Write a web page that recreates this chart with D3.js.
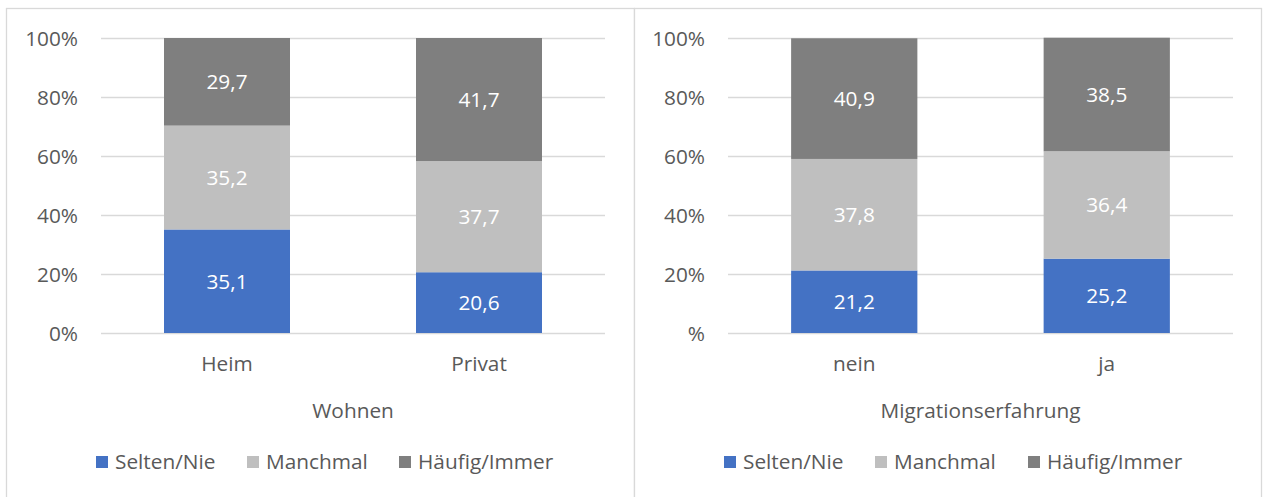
<!DOCTYPE html>
<html><head><meta charset="utf-8">
<script src="https://cdn.jsdelivr.net/npm/d3@7"></script>
<style>body{margin:0;background:#fff}svg{display:block}text{font-family:"Open Sans",sans-serif}</style>
</head><body><svg id="c" width="1264" height="497"></svg>
<script>
const seriesNames = ["Selten/Nie","Manchmal","Häufig/Immer"];
const colors = ["#4472C4","#BFBFBF","#7F7F7F"];
const leftCategories = ["Heim","Privat"];
const leftSelten = [35.1, 20.6];
const leftManchmal = [35.2, 37.7];
const leftHaeufig = [29.7, 41.7];
const rightCategories = ["nein","ja"];
const rightSelten = [21.2, 25.2];
const rightManchmal = [37.8, 36.4];
const rightHaeufig = [40.9, 38.5];
const tickValues = [0,20,40,60,80,100];
const leftTickLabels = ["0%","20%","40%","60%","80%","100%"];
const rightTickLabels = ["%","20%","40%","60%","80%","100%"];
const leftTitle = "Wohnen";
const rightTitle = "Migrationserfahrung";

const svg = d3.select("#c");
const fontSize = 20.8, txt = "#595959";

function panel(px, pw, cats, vals, tickLabels, title, plotL, plotR) {
  const g = svg.append("g");
  g.append("rect").attr("x", px+0.5).attr("y", 8.5).attr("width", pw).attr("height", 520)
    .attr("fill","#fff").attr("stroke","#D9D9D9").attr("stroke-width",1.3);
  const y = d3.scaleLinear().domain([0,100]).range([333,38]);
  const x = d3.scaleBand().domain(cats).range([plotL, plotR]).paddingInner(0.5).paddingOuter(0.25);
  g.append("g").selectAll("line").data(tickValues).join("line")
    .attr("x1", plotL).attr("x2", plotR)
    .attr("y1", d=>Math.round(y(d))+0.5).attr("y2", d=>Math.round(y(d))+0.5)
    .attr("stroke","#D9D9D9").attr("stroke-width",1.3);
  const yAxis = d3.axisLeft(y).tickValues(tickValues).tickSize(0).tickPadding(0)
    .tickFormat((d,i)=>tickLabels[i]);
  const ya = g.append("g").attr("transform",`translate(${plotL-23},0)`).call(yAxis);
  ya.select(".domain").remove();
  ya.selectAll("text").attr("font-size",fontSize).attr("fill",txt).attr("font-family","Open Sans").attr("dy","0.35em");
  const rows = cats.map((c,i)=>({cat:c, s0:vals[0][i], s1:vals[1][i], s2:vals[2][i]}));
  const stack = d3.stack().keys(["s0","s1","s2"])(rows);
  stack.forEach((layer, li) => {
    const lg = g.append("g");
    lg.selectAll("rect").data(layer).join("rect")
      .attr("x", d=>x(d.data.cat)).attr("width", x.bandwidth())
      .attr("y", d=>y(d[1])).attr("height", d=>y(d[0])-y(d[1]))
      .attr("fill", colors[li]);
    lg.selectAll("text").data(layer).join("text")
      .attr("x", d=>x(d.data.cat)+x.bandwidth()/2).attr("y", d=>(y(d[0])+y(d[1]))/2)
      .attr("dy","0.35em").attr("text-anchor","middle").attr("fill","#fff")
      .attr("font-size",fontSize)
      .text(d=>d3.format(".1f")(d[1]-d[0]).replace(".",","));
  });
  const xAxis = d3.axisBottom(x).tickSize(0).tickPadding(0);
  const xa = g.append("g").attr("transform","translate(0,364)").call(xAxis);
  xa.select(".domain").remove();
  xa.selectAll("text").attr("font-size",fontSize).attr("fill",txt).attr("font-family","Open Sans").attr("dy","0.35em");
  g.append("text").attr("x",(plotL+plotR)/2).attr("y",411).attr("dy","0.35em")
    .attr("text-anchor","middle").attr("font-size",fontSize).attr("fill",txt).text(title);
  return g;
}

function legend(g, positions) {
  seriesNames.forEach((n,i)=>{
    g.append("rect").attr("x",positions[i]).attr("y",456).attr("width",12).attr("height",12).attr("fill",colors[i]);
    g.append("text").attr("x",positions[i]+19).attr("y",462).attr("dy","0.35em")
      .attr("font-size",fontSize).attr("fill",txt).text(n);
  });
}

const gl = panel(6, 628, leftCategories, [leftSelten,leftManchmal,leftHaeufig], leftTickLabels, leftTitle, 101, 605);
legend(gl, [96, 247, 399]);
const gr = panel(634, 627, rightCategories, [rightSelten,rightManchmal,rightHaeufig], rightTickLabels, rightTitle, 728, 1233);
legend(gr, [724, 875, 1028]);
</script></body></html>
